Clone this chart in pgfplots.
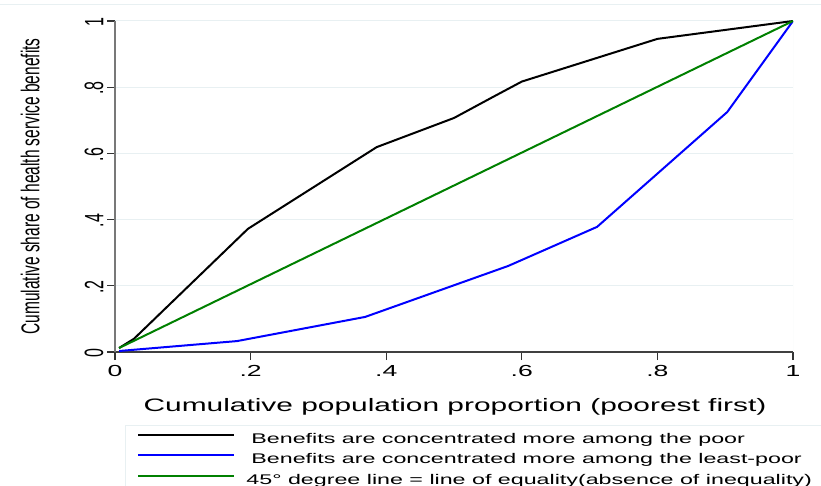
\documentclass[border=0pt]{standalone}
\usepackage{fontspec}
\setmainfont{Liberation Sans}
\usepackage{pgfplots}
\pgfplotsset{compat=1.18}
\definecolor{gridc}{RGB}{232,240,242}
\definecolor{stgreen}{RGB}{0,128,0}
\definecolor{stblue}{RGB}{0,0,255}
\definecolor{spine}{RGB}{120,120,120}
\newcommand{\hs}[1]{\scalebox{1.66}[1]{#1}}
\newcommand{\vs}[1]{\scalebox{1}[1.66]{#1}}
\begin{document}
\begin{tikzpicture}
\useasboundingbox (0pt,0pt) rectangle (821pt,-486pt);
\draw[gridc, line width=1pt] (0pt,-5pt) -- (821pt,-5pt);
\begin{axis}[
  at={(115pt,-352pt)}, anchor=south west,
  scale only axis, width=678pt, height=331pt,
  xmin=0, xmax=1, ymin=0, ymax=1, enlargelimits=false,
  axis x line=bottom, axis y line=left,
  axis line style={-, spine, line width=1.8pt},
  x axis line style={black!75, line width=1.4pt},
  tick align=outside, major tick length=8pt,
  tick style={black!80, line width=1.2pt},
  xtick={0,0.2,0.4,0.6,0.8,1},
  ytick={0,0.2,0.4,0.6,0.8,1},
  xticklabels={\hs{0},\hs{.2},\hs{.4},\hs{.6},\hs{.8},\hs{1}},
  yticklabels={\vs{0},\vs{.2},\vs{.4},\vs{.6},\vs{.8},\vs{1}},
  ticklabel style={font=\fontsize{16}{18}\selectfont},
  xticklabel style={yshift=-2pt},
  yticklabel style={rotate=90, anchor=south, xshift=-1pt},
  ymajorgrids, grid style={gridc, line width=1pt},
  xlabel={\hs{Cumulative population proportion (poorest first)}},
  xlabel style={font=\fontsize{18}{20}\selectfont, at={(axis description cs:0.5015,-0.166)}, anchor=center},
  ylabel={\vs{Cumulative share of health service benefits}},
  ylabel style={font=\fontsize{15.5}{17}\selectfont, at={(axis description cs:-0.125,0.5)}, anchor=center, rotate=0},
  legend style={at={(axis description cs:0.0147,-0.2205)}, anchor=north west,
    draw=gridc, line width=1pt, fill=white, inner xsep=12pt, inner ysep=8pt,
    font=\fontsize{14}{16}\selectfont, row sep=7.5pt,
    nodes={inner sep=0pt, text height=10pt, text depth=3pt}},
  legend cell align=left,
  legend image code/.code={\draw[#1] (0pt,5pt) -- (96pt,5pt);},
]
\draw[gridc, line width=1pt] (axis cs:1,0) -- (axis cs:1,1);
\addplot[black, line width=2pt] coordinates {
 (0.006,0.012) (0.028,0.040) (0.196,0.372) (0.386,0.619) (0.5,0.707)
 (0.557,0.770) (0.6,0.817) (0.8,0.946) (1,1)};
\addlegendentry{\hspace*{16pt}\hs{Benefits are concentrated more among the poor}}
\addplot[stblue, line width=2pt] coordinates {
 (0.006,0.003) (0.18,0.033) (0.369,0.106) (0.58,0.26) (0.711,0.378)
 (0.903,0.725) (1,1)};
\addlegendentry{\hspace*{16pt}\hs{Benefits are concentrated more among the least-poor}}
\addplot[stgreen, line width=2pt] coordinates {(0.006,0.012) (1,1)};
\addlegendentry{\hspace*{11pt}\hs{45° degree line = line of equality(absence of inequality)}}
\end{axis}
\end{tikzpicture}
\end{document}
